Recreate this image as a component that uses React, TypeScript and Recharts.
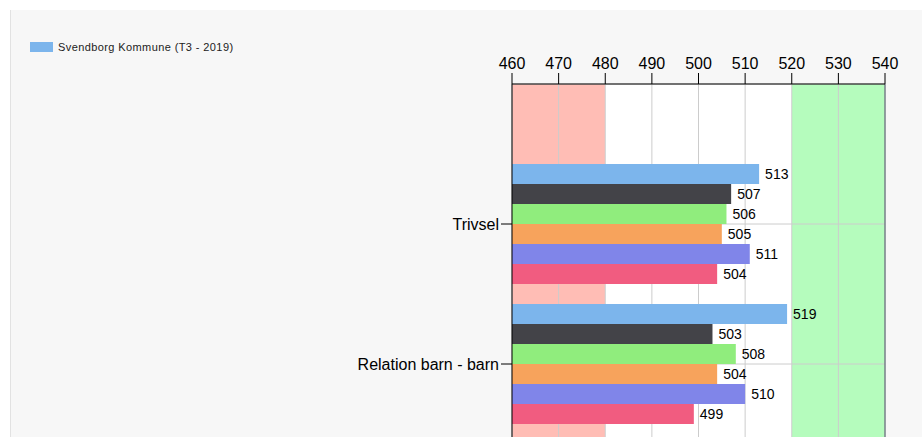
import {
    Bar,
    BarChart,
    CartesianGrid,
    LabelList,
    ReferenceLine,
    XAxis,
    YAxis,
} from "recharts";

const categories = ["Trivsel", "Relation barn - barn"];
const svendborg = [513, 519];
const serie2 = [507, 503];
const serie3 = [506, 508];
const serie4 = [505, 504];
const serie5 = [511, 510];
const serie6 = [504, 499];
const xTicks = [460, 470, 480, 490, 500, 510, 520, 530, 540];

const seriesKeys = ["s1", "s2", "s3", "s4", "s5", "s6"];
const seriesColors = ["#7cb5ec", "#434348", "#90ed7d", "#f7a35c", "#8085e9", "#f15c80"];
// band colours between the vertical grid lines: 460-480 red, 520-540 green
const bandFills = ["#ffbdb5", "#ffbdb5", "#ffffff", "#ffffff", "#ffffff", "#ffffff", "#b5fcbd", "#b5fcbd"];

const data = categories.map((name, i) => ({
    name,
    s1: svendborg[i],
    s2: serie2[i],
    s3: serie3[i],
    s4: serie4[i],
    s5: serie5[i],
    s6: serie6[i],
}));

const font = "Arial, 'Liberation Sans', sans-serif";

const App = () => {
    return (
        <div style={{ position: "fixed", left: 0, top: 0, width: 922, height: 437, background: "#fff", overflow: "hidden" }}>
            <div
                style={{
                    position: "absolute",
                    left: 10,
                    top: 10,
                    width: 912,
                    height: 427,
                    background: "#f7f7f7",
                    borderLeft: "1px solid #e2e2e2",
                }}
            />
            <div
                style={{
                    position: "absolute",
                    left: 30,
                    top: 41,
                    display: "flex",
                    alignItems: "center",
                    fontFamily: "'Liberation Sans', Arial, sans-serif",
                    fontSize: 11,
                    letterSpacing: 0.4,
                    color: "#222",
                }}
            >
                <span style={{ display: "inline-block", width: 23, height: 10, background: seriesColors[0], marginRight: 5 }} />
                Svendborg Kommune (T3 - 2019)
            </div>
            <div style={{ position: "absolute", left: 0, top: 0 }}>
                <BarChart
                    width={922}
                    height={520}
                    data={data}
                    layout="vertical"
                    barGap={0}
                    barCategoryGap={10}
                    margin={{ top: 44, right: 37, left: 0, bottom: 16 }}
                >
                    <CartesianGrid fill="#ffffff" stroke="none" verticalFill={bandFills} />
                    <CartesianGrid stroke="#cccccc" />
                    <XAxis
                        type="number"
                        orientation="top"
                        domain={[460, 540]}
                        ticks={xTicks}
                        allowDataOverflow
                        height={40}
                        tickSize={11}
                        tickMargin={4}
                        stroke="#000"
                        tick={{ fill: "#000", fontSize: 16, fontFamily: font }}
                    />
                    <YAxis
                        type="category"
                        dataKey="name"
                        width={512}
                        padding={{ top: 70, bottom: 70 }}
                        tickSize={11}
                        tickMargin={2}
                        stroke="#000"
                        tick={{ fill: "#000", fontSize: 16, fontFamily: font }}
                    />
                    <ReferenceLine x={540} stroke="#4d5a66" strokeWidth={1} />
                    {seriesKeys.map((k, i) => (
                        <Bar
                            key={k}
                            dataKey={k}
                            fill={seriesColors[i]}
                            barSize={20}
                            isAnimationActive={false}
                        >
                            <LabelList
                                dataKey={k}
                                position="right"
                                offset={6}
                                fill="#000"
                                fontSize={14}
                                fontFamily={font}
                            />
                        </Bar>
                    ))}
                </BarChart>
            </div>
        </div>
    );
};

export default App;
